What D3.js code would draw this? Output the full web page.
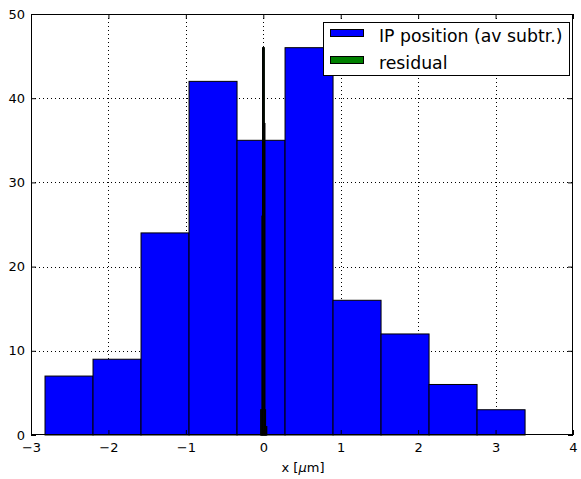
<!DOCTYPE html>
<html>
<head>
<meta charset="utf-8">
<script src="https://cdnjs.cloudflare.com/ajax/libs/d3/7.8.5/d3.min.js"></script>
<style>
  html, body { margin: 0; padding: 0; background: #fff; }
  text { font-family: "DejaVu Sans", sans-serif; }
</style>
</head>
<body>
<svg id="chart" width="581" height="479"></svg>
<script>
// Histogram of IP position (average subtracted): bin edges and counts
const ipEdges = [-2.819, -2.199, -1.579, -0.959, -0.339, 0.281, 0.901, 1.521, 2.141, 2.761, 3.381];
const ipCounts = [7, 9, 24, 42, 35, 46, 16, 12, 6, 3];

// Residual histogram: very narrow distribution around zero
const resEdges = [-0.034, -0.026, -0.018, -0.010, -0.002, 0.006, 0.014, 0.022, 0.030, 0.038, 0.046];
const resCounts = [3, 3, 26, 46, 46, 46, 37, 3, 1, 1];

const xTicks = [-3, -2, -1, 0, 1, 2, 3, 4];
const yTicks = [0, 10, 20, 30, 40, 50];
const legendLabels = ["IP position (av subtr.)", "residual"];
const seriesColors = ["#0000ff", "#008000"];

const svg = d3.select("#chart");
const m = { left: 31, right: 573, top: 14, bottom: 435 };

const x = d3.scaleLinear().domain([-3, 4]).range([m.left, m.right]);
const y = d3.scaleLinear().domain([0, 50]).range([m.bottom, m.top]);

const fmt = d => (d < 0 ? "\u2212" + Math.abs(d) : String(d));

// Grid (dotted)
const grid = svg.append("g");
grid.selectAll("line.gx").data(xTicks.slice(1, -1)).join("line")
  .attr("x1", d => Math.round(x(d)) + 0.5).attr("x2", d => Math.round(x(d)) + 0.5)
  .attr("y1", m.top).attr("y2", m.bottom)
  .attr("stroke", "#000").attr("stroke-width", 1).attr("stroke-dasharray", "1,3");
grid.selectAll("line.gy").data(yTicks.slice(1, -1)).join("line")
  .attr("y1", d => Math.round(y(d)) + 0.5).attr("y2", d => Math.round(y(d)) + 0.5)
  .attr("x1", m.left).attr("x2", m.right)
  .attr("stroke", "#000").attr("stroke-width", 1).attr("stroke-dasharray", "1,3");

// Bars helper
function drawHist(edges, counts, color) {
  const bins = counts.map((c, i) => ({ x0: edges[i], x1: edges[i + 1], c }));
  svg.append("g").selectAll("rect").data(bins).join("rect")
    .attr("x", d => x(d.x0))
    .attr("width", d => x(d.x1) - x(d.x0))
    .attr("y", d => y(d.c))
    .attr("height", d => y(0) - y(d.c))
    .attr("fill", color)
    .attr("stroke", "#000")
    .attr("stroke-width", 1);
}
drawHist(ipEdges, ipCounts, seriesColors[0]);
drawHist(resEdges, resCounts, seriesColors[1]);

// Frame
svg.append("rect")
  .attr("x", m.left + 0.5).attr("y", m.top + 0.5)
  .attr("width", m.right - m.left - 1).attr("height", m.bottom - m.top - 1)
  .attr("fill", "none").attr("stroke", "#000").attr("stroke-width", 1);

// Axes with inward ticks on all sides
const tl = 5;
const xAxisB = d3.axisBottom(x).tickValues(xTicks).tickFormat(fmt).tickSizeInner(-tl).tickSizeOuter(0).tickPadding(8);
const xAxisT = d3.axisTop(x).tickValues(xTicks).tickFormat("").tickSizeInner(-tl).tickSizeOuter(0);
const yAxisL = d3.axisLeft(y).tickValues(yTicks).tickFormat(fmt).tickSizeInner(-tl).tickSizeOuter(0).tickPadding(6);
const yAxisR = d3.axisRight(y).tickValues(yTicks).tickFormat("").tickSizeInner(-tl).tickSizeOuter(0);

function styleAxis(g) {
  g.select(".domain").remove();
  g.selectAll("text").attr("font-size", 13).attr("fill", "#000").attr("font-family", "DejaVu Sans, sans-serif");
  g.selectAll("line").attr("stroke", "#000");
}
svg.append("g").attr("transform", `translate(0,${m.bottom})`).call(xAxisB).call(styleAxis);
svg.append("g").attr("transform", `translate(0,${m.top})`).call(xAxisT).call(styleAxis);
svg.append("g").attr("transform", `translate(${m.left},0)`).call(yAxisL).call(styleAxis);
svg.append("g").attr("transform", `translate(${m.right},0)`).call(yAxisR).call(styleAxis);

// x-axis label with italic mu
const xl = svg.append("text")
  .attr("x", (m.left + m.right) / 2 + 1).attr("y", 472)
  .attr("text-anchor", "middle").attr("font-size", 13);
xl.append("tspan").text("x [");
xl.append("tspan").attr("font-style", "italic").text("\u03bc");
xl.append("tspan").text("m]");

// Legend
const lg = svg.append("g");
lg.append("rect")
  .attr("x", 323.5).attr("y", 22.5).attr("width", 246).attr("height", 53)
  .attr("fill", "#fff").attr("stroke", "#000").attr("stroke-width", 1);
legendLabels.forEach((lab, i) => {
  const yy = 29 + i * 27;
  lg.append("rect")
    .attr("x", 330.5).attr("y", yy + 0.5).attr("width", 33).attr("height", 7)
    .attr("fill", seriesColors[i]).attr("stroke", "#000").attr("stroke-width", 1);
  lg.append("text")
    .attr("x", 379).attr("y", yy + 13)
    .attr("font-size", 17.3).attr("fill", "#000").text(lab);
});
</script>
</body>
</html>
